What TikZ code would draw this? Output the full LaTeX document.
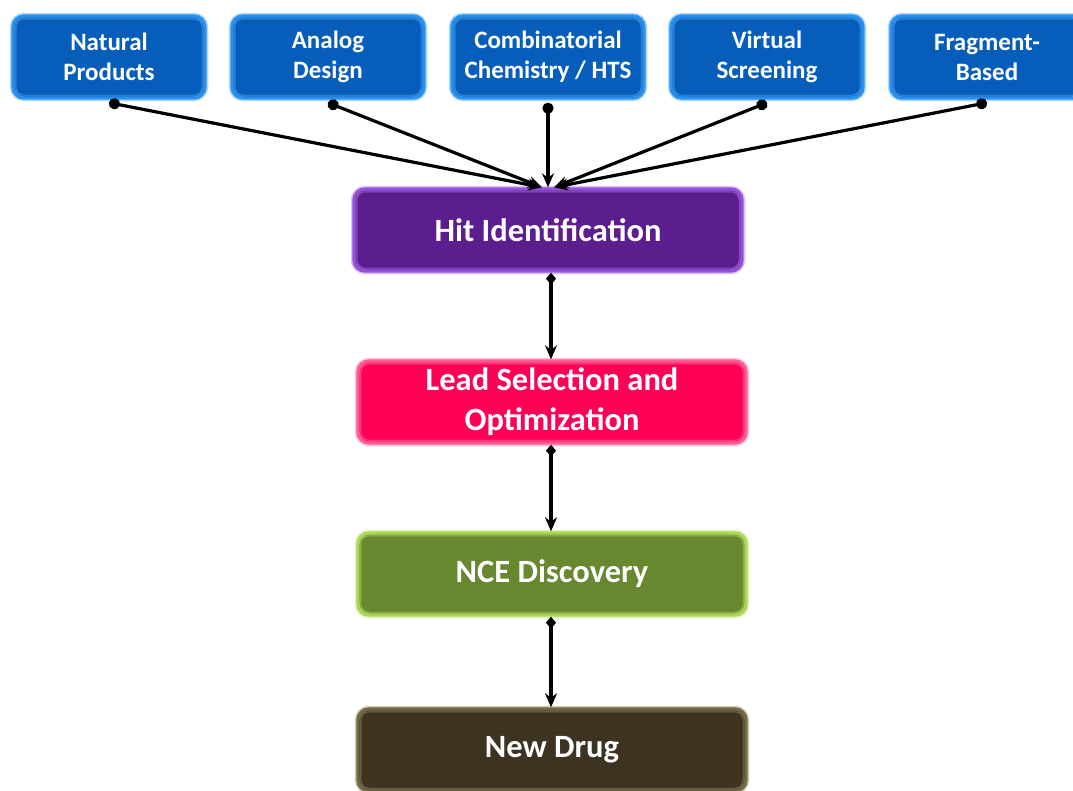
\documentclass[tikz,border=0pt]{standalone}
\usepackage{fontspec}
\setmainfont{Carlito}
\usetikzlibrary{arrows.meta}

\definecolor{srcfill}{RGB}{6,94,186}
\definecolor{srcedge}{RGB}{40,145,240}
\definecolor{hitfill}{RGB}{92,30,142}
\definecolor{hitedge}{RGB}{150,80,220}
\definecolor{leadfill}{RGB}{255,0,84}
\definecolor{leadedge}{RGB}{255,90,150}
\definecolor{ncefill}{RGB}{103,136,46}
\definecolor{nceedge}{RGB}{170,215,80}
\definecolor{drugfill}{RGB}{60,52,32}
\definecolor{drugedge}{RGB}{115,105,65}

\tikzset{
  box/.style={rounded corners=11pt, line width=3.4pt, inner sep=0pt,
    text=white, align=center, font=\bfseries},
  glow/.style={preaction={draw=#1, line width=6.5pt, opacity=0.35}},
  srcbox/.style={box, fill=srcfill, draw=srcedge, glow=srcedge,
    minimum width=192pt, minimum height=82pt,
    font=\bfseries\fontsize{25}{30}\selectfont},
  stagebox/.style={box, minimum width=388pt, minimum height=82pt,
    font=\bfseries\fontsize{32.5}{40}\selectfont},
  rim/.style={rounded corners=8pt, line width=0.9pt, opacity=0.55},
  feed/.style={line width=3.2pt, {Circle[length=11pt]}-{Stealth[length=14pt,width=12pt]}},
  flow/.style={line width=3.2pt, {Diamond[length=12pt,width=10pt]}-{Stealth[length=14pt,width=12pt]}}
}

\begin{document}
\begin{tikzpicture}[x=1pt,y=-1pt]
\useasboundingbox (0,0) rectangle (1073,790);
\clip (0,0) rectangle (1073,790);

% source approaches
\node[srcbox] (np) at (109,57) {Natural\\Products};
\node[srcbox] (ad) at (328,57) {Analog\\Design};
\node[srcbox] (cc) at (548,57) {Combinatorial\\Chemistry / HTS};
\node[srcbox] (vs) at (767,57) {Virtual\\Screening};
\node[srcbox] (fb) at (987,57) {Fragment-\\Based};

% pipeline stages
\node[stagebox, fill=hitfill, draw=hitedge, glow=hitedge] (hit) at (548,230) {Hit Identification};
\node[stagebox, fill=leadfill, draw=leadedge, glow=leadedge] (lead) at (552,402) {Lead Selection and\\Optimization};
\node[stagebox, fill=ncefill, draw=nceedge, glow=nceedge] (nce) at (552,574) {NCE Discovery};
\node[stagebox, fill=drugfill, draw=drugedge, glow=drugedge] (drug) at (552,750) {New Drug};

% inner highlight rims
\foreach \n/\c in {np/srcedge, ad/srcedge, cc/srcedge, vs/srcedge, fb/srcedge,
                   hit/hitedge, lead/leadedge, nce/nceedge, drug/drugedge}
  \draw[rim, draw=\c!60!white]
    ([shift={(4.5,4.5)}]\n.north west) rectangle ([shift={(-4.5,-4.5)}]\n.south east);

% convergence points on the hit box
\coordinate (inL) at ([xshift=-6pt]hit.north);
\coordinate (inR) at ([xshift=6pt]hit.north);

% feeds into hit identification
\draw[feed] ([yshift=-3pt]np.south) -- (inL);
\draw[feed] ([yshift=-3pt]ad.south) -- (inL);
\draw[feed] ([yshift=-3pt]cc.south) -- (hit.north);
\draw[feed] ([yshift=-3pt]vs.south) -- (inR);
\draw[feed] ([yshift=-3pt]fb.south) -- (inR);

% downstream flow
\coordinate (h1) at ([xshift=-1pt]lead.north |- hit.south);
\coordinate (h2) at ([xshift=-1pt]lead.north);
\coordinate (l1) at ([xshift=-1pt]lead.south);
\coordinate (l2) at ([xshift=-1pt]nce.north);
\coordinate (n1) at ([xshift=-1pt]nce.south);
\coordinate (n2) at ([xshift=-1pt]drug.north);
\draw[flow] (h1) -- (h2);
\draw[flow] (l1) -- (l2);
\draw[flow] (n1) -- (n2);
\end{tikzpicture}
\end{document}
